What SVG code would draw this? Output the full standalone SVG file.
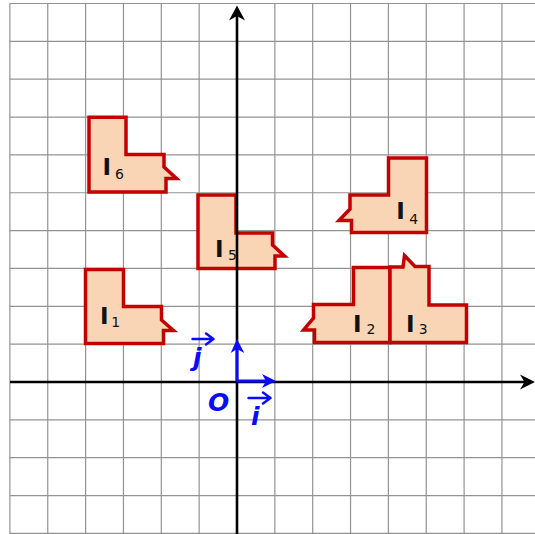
<svg xmlns="http://www.w3.org/2000/svg" width="535" height="534" viewBox="0 0 535 534">
<style>
.grid line{stroke:#939393;stroke-width:1.2}
.shape{fill:#fad5b5;stroke:#c40000;stroke-width:3.5;stroke-linejoin:miter}
.lbl{font-family:"DejaVu Sans",sans-serif;font-weight:bold;font-size:23px;fill:#111;text-anchor:middle}
.sub{font-family:"DejaVu Sans",sans-serif;font-size:14px;fill:#111;text-anchor:middle}
.axis{stroke:#000;stroke-width:2.6;fill:none}
.vec{stroke:#0a0aff;stroke-width:3;fill:none}
.vtxt{font-family:"DejaVu Sans",sans-serif;font-weight:bold;font-style:oblique;font-size:25px;fill:#0a0aff}
.harp{stroke:#0a0aff;stroke-width:2.4;fill:none;stroke-linecap:round;stroke-linejoin:round}
</style>
<rect width="535" height="534" fill="#fff"/>
<g class="grid">
<line x1="9.9" y1="3.5" x2="9.9" y2="534"/>
<line x1="47.75" y1="3.5" x2="47.75" y2="534"/>
<line x1="85.6" y1="3.5" x2="85.6" y2="534"/>
<line x1="123.45" y1="3.5" x2="123.45" y2="534"/>
<line x1="161.3" y1="3.5" x2="161.3" y2="534"/>
<line x1="199.15" y1="3.5" x2="199.15" y2="534"/>
<line x1="274.85" y1="3.5" x2="274.85" y2="534"/>
<line x1="312.7" y1="3.5" x2="312.7" y2="534"/>
<line x1="350.55" y1="3.5" x2="350.55" y2="534"/>
<line x1="388.4" y1="3.5" x2="388.4" y2="534"/>
<line x1="426.25" y1="3.5" x2="426.25" y2="534"/>
<line x1="464.1" y1="3.5" x2="464.1" y2="534"/>
<line x1="501.95" y1="3.5" x2="501.95" y2="534"/>
<line x1="9.9" y1="3.5" x2="535" y2="3.5"/>
<line x1="9.9" y1="41.35" x2="535" y2="41.35"/>
<line x1="9.9" y1="79.2" x2="535" y2="79.2"/>
<line x1="9.9" y1="117.05" x2="535" y2="117.05"/>
<line x1="9.9" y1="154.9" x2="535" y2="154.9"/>
<line x1="9.9" y1="192.75" x2="535" y2="192.75"/>
<line x1="9.9" y1="230.6" x2="535" y2="230.6"/>
<line x1="9.9" y1="268.45" x2="535" y2="268.45"/>
<line x1="9.9" y1="306.3" x2="535" y2="306.3"/>
<line x1="9.9" y1="344.15" x2="535" y2="344.15"/>
<line x1="9.9" y1="419.85" x2="535" y2="419.85"/>
<line x1="9.9" y1="457.7" x2="535" y2="457.7"/>
<line x1="9.9" y1="495.55" x2="535" y2="495.55"/>
<line x1="9.9" y1="533.4" x2="535" y2="533.4"/>
</g>
<g id="I6">
<path class="shape" d="M89 117.3 H126 V154.5 H164 V167 L176.5 178.5 H166 V192 H89 Z"/>
<text class="lbl" x="106.7" y="174.5">I</text><text class="sub" x="119.5" y="178.5">6</text>
</g>
<g id="I1">
<path class="shape" d="M85.5 269.5 H123.5 V306.5 H161.5 V320 L173.5 330.5 H163.5 V343.5 H85.5 Z"/>
<text class="lbl" x="104.2" y="323.5">I</text><text class="sub" x="115.8" y="327">1</text>
</g>
<g id="I5">
<path class="shape" d="M198 195 H236 V233 H272.5 V245 L284.5 256 H275 V268.5 H198 Z"/>
<text class="lbl" x="219.3" y="256.7">I</text><text class="sub" x="232.5" y="260.3">5</text>
</g>
<g id="I4">
<path class="shape" d="M388.5 158 H426.5 V232.5 H351.5 V220.5 H339 L350 209 V195 H388.5 Z"/>
<text class="lbl" x="400.5" y="219">I</text><text class="sub" x="413.7" y="223.5">4</text>
</g>
<g id="I2">
<path class="shape" d="M313.5 304.5 H353.5 V267.5 H390 V342.5 H314.5 V330 H303.5 L313.5 318 Z"/>
<text class="lbl" x="357.2" y="331.7">I</text><text class="sub" x="371" y="334.3">2</text>
</g>
<g id="I3">
<path class="shape" d="M390 267 H403 L404.5 255.5 L415 266.5 H429 V305 H466.5 V342.5 H390 Z"/>
<text class="lbl" x="410.3" y="331.7">I</text><text class="sub" x="423.3" y="334.3">3</text>
</g>
<g id="axes">
<line class="axis" x1="237" y1="534" x2="237" y2="12"/>
<path d="M237 5.5 L245 20.5 L237 16 L229 20.5 Z" fill="#000"/>
<line class="axis" x1="10" y1="382" x2="528" y2="382"/>
<path d="M535 382 L520 389.5 L524.5 382 L520 374.5 Z" fill="#000"/>
</g>
<g id="vectors">
<line class="vec" x1="237" y1="381" x2="270" y2="381"/>
<path d="M276 381 L262 374 L266 381 L262 388 Z" fill="#0a0aff"/>
<line class="vec" x1="237" y1="382" x2="237" y2="345"/>
<path d="M237 339 L244.3 353 L237 349 L230.7 353 Z" fill="#0a0aff"/>
<text class="vtxt" x="208" y="411">O</text>
<text class="vtxt" x="193" y="366" font-size="27">j</text>
<path class="harp" d="M192.5 339 H213.5 M206 333.5 L213.5 339 L206 344.5"/>
<text class="vtxt" x="251" y="424.5" font-size="27">i</text>
<path class="harp" d="M248.5 398 H270.5 M263 392.5 L270.5 398 L263 403.5"/>
</g>
</svg>
